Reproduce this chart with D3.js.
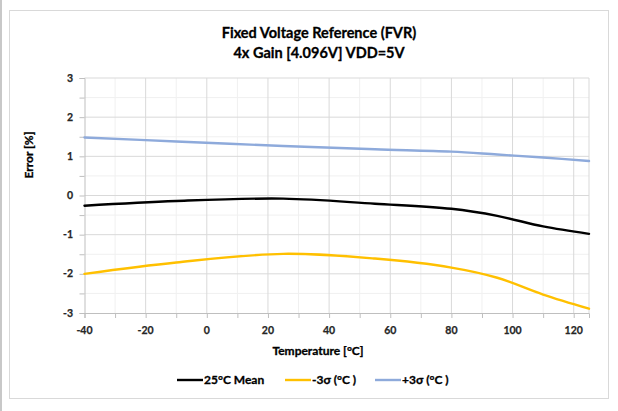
<!DOCTYPE html>
<html><head><meta charset="utf-8">
<script src="https://cdn.jsdelivr.net/npm/d3@7/dist/d3.min.js"></script>
<style>body{margin:0;background:#fff}svg{display:block}text{font-family:Lato,"Open Sans",sans-serif;}</style>
</head><body>
<script>
const temps = [-40,-10,25,55,80,95,110,125];
const mean25 = [-0.26,-0.14,-0.08,-0.21,-0.34,-0.52,-0.79,-0.98];
const minus3s = [-2.00,-1.71,-1.49,-1.61,-1.84,-2.10,-2.53,-2.89];
const plus3s = [1.48,1.38,1.265,1.18,1.12,1.045,0.97,0.88];
const xTicks = [-40,-20,0,20,40,60,80,100,120];
const yTicks = [-3,-2,-1,0,1,2,3];
const seriesNames = ["25°C Mean","-3σ (°C )","+3σ (°C )"];
const seriesColors = ["#000000","#ffc000","#8eaadb"];
const titleLines = ["Fixed Voltage Reference (FVR)","4x Gain [4.096V] VDD=5V"];

const W=618,H=411;
const svg=d3.select("body").append("svg").attr("width",W).attr("height",H);
svg.append("rect").attr("x",0).attr("y",0).attr("width",W).attr("height",H).attr("fill","#fff");
svg.append("rect").attr("x",0).attr("y",0).attr("width",2).attr("height",H).attr("fill","#c8c8c8");
svg.append("rect").attr("x",9.5).attr("y",10.5).attr("width",599).attr("height",388).attr("fill","#fff").attr("stroke","#d9d9d9");

const x=d3.scaleLinear().domain([-40,125]).range([84.5,589]);
const y=d3.scaleLinear().domain([-3,3]).range([313,78]);

const g=svg.append("g");
g.selectAll(".mx").data(d3.range(-30,125,20)).enter().append("line")
 .attr("x1",d=>x(d)).attr("x2",d=>x(d)).attr("y1",y(3)).attr("y2",y(-3)).attr("stroke","#f0f0f0");
g.selectAll(".my").data(d3.range(-2.5,3,1)).enter().append("line")
 .attr("x1",x(-40)).attr("x2",x(125)).attr("y1",d=>y(d)).attr("y2",d=>y(d)).attr("stroke","#f0f0f0");
g.selectAll(".Mx").data(xTicks.slice(1).concat([125])).enter().append("line")
 .attr("x1",d=>x(d)).attr("x2",d=>x(d)).attr("y1",y(3)).attr("y2",y(-3)).attr("stroke","#d9d9d9");
g.selectAll(".My").data(yTicks.slice(1)).enter().append("line")
 .attr("x1",x(-40)).attr("x2",x(125)).attr("y1",d=>y(d)).attr("y2",d=>y(d)).attr("stroke","#d9d9d9");

const xAxis=d3.axisBottom(x).tickValues(d3.range(-40,125,10)).tickSize(5).tickFormat("");
svg.append("g").attr("transform",`translate(0,${y(-3)})`).call(xAxis)
 .call(s=>{s.select(".domain").attr("stroke","#bfbfbf");s.selectAll(".tick line").attr("stroke","#bfbfbf");});
const yAxis=d3.axisLeft(y).tickValues(d3.range(-3,3.01,0.5)).tickSize(5).tickFormat("");
svg.append("g").attr("transform",`translate(${x(-40)},0)`).call(yAxis)
 .call(s=>{s.select(".domain").attr("stroke","#bfbfbf");s.selectAll(".tick line").attr("stroke","#bfbfbf");});

svg.selectAll(".xl").data(xTicks).enter().append("text").attr("x",d=>x(d)).attr("y",334)
 .attr("text-anchor","middle").attr("font-size",10.5).attr("font-weight","bold").attr("fill","#262626")
 .attr("stroke","#262626").attr("stroke-width",0.25).text(d=>d);
svg.selectAll(".yl").data(yTicks).enter().append("text").attr("x",73).attr("y",d=>y(d)+3.5)
 .attr("text-anchor","end").attr("font-size",10.5).attr("font-weight","bold").attr("fill","#262626")
 .attr("stroke","#262626").attr("stroke-width",0.25).text(d=>d);

const data=[mean25,minus3s,plus3s];
const line=d3.line().x((d,i)=>x(temps[i])).y(d=>y(d)).curve(d3.curveCatmullRom.alpha(0.5));
[2,0,1].forEach(k=>{
  svg.append("path").datum(data[k]).attr("d",line).attr("fill","none")
   .attr("stroke",seriesColors[k]).attr("stroke-width",2.4).attr("stroke-linecap","round");
});

svg.selectAll(".t").data(titleLines).enter().append("text").attr("x",319).attr("y",(d,i)=>38+i*20)
 .attr("text-anchor","middle").attr("font-size",14.5).attr("font-weight","bold").attr("fill","#000")
 .attr("stroke","#000").attr("stroke-width",0.3).text(d=>d);
svg.append("text").attr("x",318).attr("y",355).attr("text-anchor","middle").attr("font-size",12)
 .attr("font-weight","bold").attr("stroke","#000").attr("stroke-width",0.3).text("Temperature [°C]");
svg.append("text").attr("transform","translate(33,155) rotate(-90)").attr("text-anchor","middle")
 .attr("font-size",12).attr("font-weight","bold").attr("stroke","#000").attr("stroke-width",0.3).text("Error [%]");

const legX=[177,285,375];
seriesNames.forEach((n,i)=>{
  svg.append("line").attr("x1",legX[i]).attr("x2",legX[i]+26).attr("y1",380).attr("y2",380)
   .attr("stroke",seriesColors[i]).attr("stroke-width",2.4);
  svg.append("text").attr("x",legX[i]+27).attr("y",384).attr("font-size",12).attr("font-weight","bold")
   .attr("stroke","#000").attr("stroke-width",0.3).text(n);
});
</script>
</body></html>
